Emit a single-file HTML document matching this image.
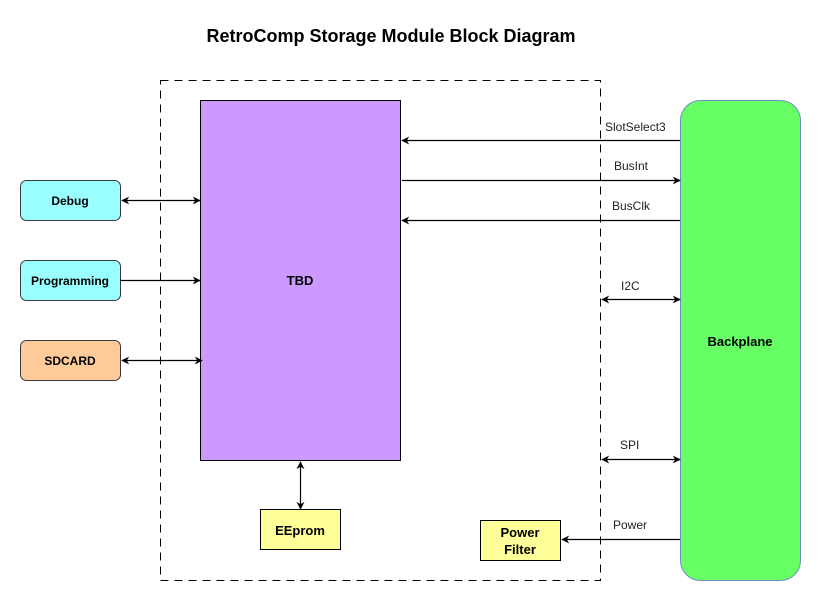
<!DOCTYPE html>
<html><head><meta charset="utf-8"><style>
html,body{margin:0;padding:0;background:#fff;}
svg{display:block;font-family:"Liberation Sans",Arial,sans-serif;}
</style></head><body>
<svg width="821" height="601" viewBox="0 0 821 601" xmlns="http://www.w3.org/2000/svg">
<defs>
<marker id="a" viewBox="0 0 10 10" refX="9" refY="5" markerWidth="8" markerHeight="8" orient="auto-start-reverse" markerUnits="userSpaceOnUse">
<path d="M0,0 L10,5 L0,10 L3,5 Z" fill="#000"/>
</marker>
</defs>
<rect width="821" height="601" fill="#fff"/>
<text x="391" y="42" text-anchor="middle" font-size="18" font-weight="bold">RetroComp Storage Module Block Diagram</text>
<rect x="160.5" y="80.5" width="440" height="500" fill="none" stroke="#000" stroke-dasharray="8,6"/>
<rect x="200.5" y="100.5" width="200" height="360" fill="#CC99FF" stroke="#000"/>
<text x="300" y="285" text-anchor="middle" font-size="13" font-weight="bold">TBD</text>
<rect x="20.5" y="180.5" width="100" height="40" rx="6" fill="#99FFFF" stroke="#36393d"/>
<text x="70" y="205" text-anchor="middle" font-size="12" font-weight="bold">Debug</text>
<rect x="20.5" y="260.5" width="100" height="40" rx="6" fill="#99FFFF" stroke="#36393d"/>
<text x="70" y="285" text-anchor="middle" font-size="12" font-weight="bold">Programming</text>
<rect x="20.5" y="340.5" width="100" height="40" rx="6" fill="#FFCC99" stroke="#36393d"/>
<text x="70" y="365" text-anchor="middle" font-size="12" font-weight="bold">SDCARD</text>
<rect x="260.5" y="509.5" width="80" height="40" fill="#FFFF99" stroke="#000"/>
<text x="300" y="535" text-anchor="middle" font-size="13" font-weight="bold">EEprom</text>
<rect x="480.5" y="520.5" width="80" height="40" fill="#FFFF99" stroke="#000"/>
<text x="520" y="537" text-anchor="middle" font-size="13" font-weight="bold">Power</text>
<text x="520" y="554" text-anchor="middle" font-size="13" font-weight="bold">Filter</text>
<rect x="680.5" y="100.5" width="120" height="480" rx="20" fill="#66FF66" stroke="#6C8EBF"/>
<text x="740" y="346" text-anchor="middle" font-size="13" font-weight="bold">Backplane</text>
<g stroke="#000" stroke-width="1.2" fill="none">
<line x1="122" y1="200.5" x2="200" y2="200.5" marker-start="url(#a)" marker-end="url(#a)"/>
<line x1="120" y1="280.5" x2="200" y2="280.5" marker-end="url(#a)"/>
<line x1="122" y1="360.5" x2="202" y2="360.5" marker-start="url(#a)" marker-end="url(#a)"/>
<line x1="300.5" y1="462" x2="300.5" y2="509" marker-start="url(#a)" marker-end="url(#a)"/>
<line x1="680" y1="140.5" x2="402" y2="140.5" marker-end="url(#a)"/>
<line x1="402" y1="180.5" x2="680" y2="180.5" marker-end="url(#a)"/>
<line x1="680" y1="220.5" x2="402" y2="220.5" marker-end="url(#a)"/>
<line x1="602" y1="299.5" x2="680" y2="299.5" marker-start="url(#a)" marker-end="url(#a)"/>
<line x1="602" y1="459.5" x2="680" y2="459.5" marker-start="url(#a)" marker-end="url(#a)"/>
<line x1="680" y1="539.5" x2="562" y2="539.5" marker-end="url(#a)"/>
</g>
<g font-size="12" fill="#222">
<text x="605" y="131">SlotSelect3</text>
<text x="614" y="170">BusInt</text>
<text x="612" y="210">BusClk</text>
<text x="621" y="290">I2C</text>
<text x="620" y="449">SPI</text>
<text x="613" y="529">Power</text>
</g>
</svg>
</body></html>
